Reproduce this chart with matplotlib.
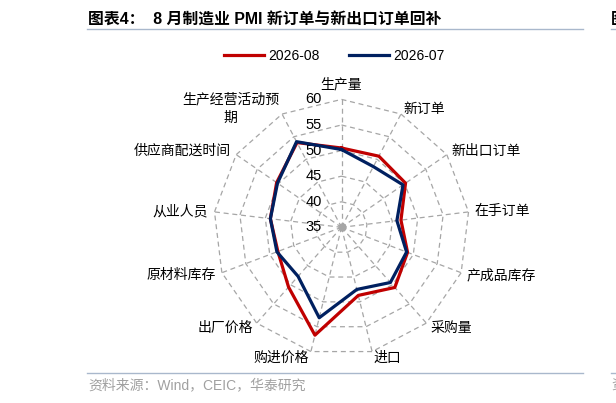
"""
Radar chart: manufacturing PMI sub-indices, 2026-08 vs 2026-07.
"""

import numpy as np
import matplotlib.pyplot as plt
from matplotlib.lines import Line2D

plt.rcParams['font.family'] = ['Liberation Sans', 'Noto Sans CJK SC']

# data
categories = ['生产量', '新订单', '新出口订单', '在手订单', '产成品库存', '采购量', '进口',
              '购进价格', '出厂价格', '原材料库存', '从业人员', '供应商配送时间', '生产经营活动预\n期']
aug_2026 = [50.5, 50.7, 50.2, 46.7, 48.8, 50.7, 48.7, 56.7, 50.6, 48.3, 49.0, 50.4, 53.7]
jul_2026 = [50.2, 48.4, 49.6, 45.9, 48.6, 49.4, 47.5, 53.2, 47.8, 48.5, 49.0, 50.2, 53.9]
series_names = ['2026-08', '2026-07']
ring_ticks = [35, 40, 45, 50, 55, 60]

RED = '#C00000'
NAVY = '#002060'
GRID = '#A6A6A6'

fig = plt.figure(figsize=(6.16, 4.03), dpi=100)
ax = fig.add_axes([0.3466, 0.1184, 0.4156, 0.635], projection='polar')
ax.set_theta_zero_location('N')
ax.set_theta_direction(-1)
ax.set_ylim(ring_ticks[0], ring_ticks[-1])
ax.grid(False)
ax.spines['polar'].set_visible(False)
ax.set_xticks([])
ax.set_yticks([])
ax.patch.set_visible(False)

n = len(categories)
angles = np.arange(n) * 2 * np.pi / n
closed = np.append(angles, angles[0])

# polygon grid and spokes
for r in ring_ticks[1:]:
    ax.plot(closed, [r] * (n + 1), color=GRID, lw=0.9, dashes=(4, 3), clip_on=False, zorder=1)
for a in angles:
    ax.plot([a, a], [ring_ticks[0], ring_ticks[-1]], color=GRID, lw=0.9, dashes=(4, 3),
            clip_on=False, zorder=1)
ax.plot(0, ring_ticks[0], 'o', color=GRID, ms=5, zorder=2)

# series
ax.plot(closed, aug_2026 + aug_2026[:1], color=RED, lw=2.3, zorder=3, clip_on=False)
ax.plot(closed, jul_2026 + jul_2026[:1], color=NAVY, lw=2.3, zorder=4, clip_on=False)

# ring labels
for v in ring_ticks:
    ax.annotate(str(v), xy=(0, v), xytext=(-14, 0), textcoords='offset points',
                ha='right', va='center', fontsize=10.5, color='black')

# category labels
for a, name in zip(angles, categories):
    s = np.sin(a)
    if abs(s) < 1e-6:
        ax.text(a, 62.9, name, ha='center', va='center', fontsize=10)
    else:
        ax.text(a, 61.2, name, ha='left' if s > 0 else 'right', va='center',
                fontsize=10, multialignment='center', linespacing=1.45)

# legend
handles = [Line2D([], [], color=RED, lw=2.3), Line2D([], [], color=NAVY, lw=2.3)]
fig.legend(handles, series_names, loc='center', bbox_to_anchor=(334.5 / 616, 1 - 56 / 403),
           ncol=2, frameon=False, handlelength=2.9, handletextpad=0.3, columnspacing=2.1,
           fontsize=10)

# title, rules, source
fig.text(88 / 616, 1 - 19.5 / 403, '图表4：  8 月制造业 PMI 新订单与新出口订单回补',
         ha='left', va='center', fontsize=11.4, fontweight='bold')
fig.text(611 / 616, 1 - 19.5 / 403, '图表5', ha='left', va='center', fontsize=11.4,
         fontweight='bold')
for y in (29.3, 373.3):
    fig.add_artist(Line2D([87 / 616, 583 / 616], [1 - y / 403] * 2, color='#A9B8CC', lw=1))
    fig.add_artist(Line2D([611 / 616, 1], [1 - y / 403] * 2, color='#A9B8CC', lw=1))
fig.text(88 / 616, 1 - 385 / 403, '资料来源：Wind，CEIC，华泰研究', ha='left', va='center',
         fontsize=10, color='#A0A0A0')
fig.text(611 / 616, 1 - 385 / 403, '资料', ha='left', va='center', fontsize=10, color='#A0A0A0')

fig.savefig('out.png', dpi=100)
